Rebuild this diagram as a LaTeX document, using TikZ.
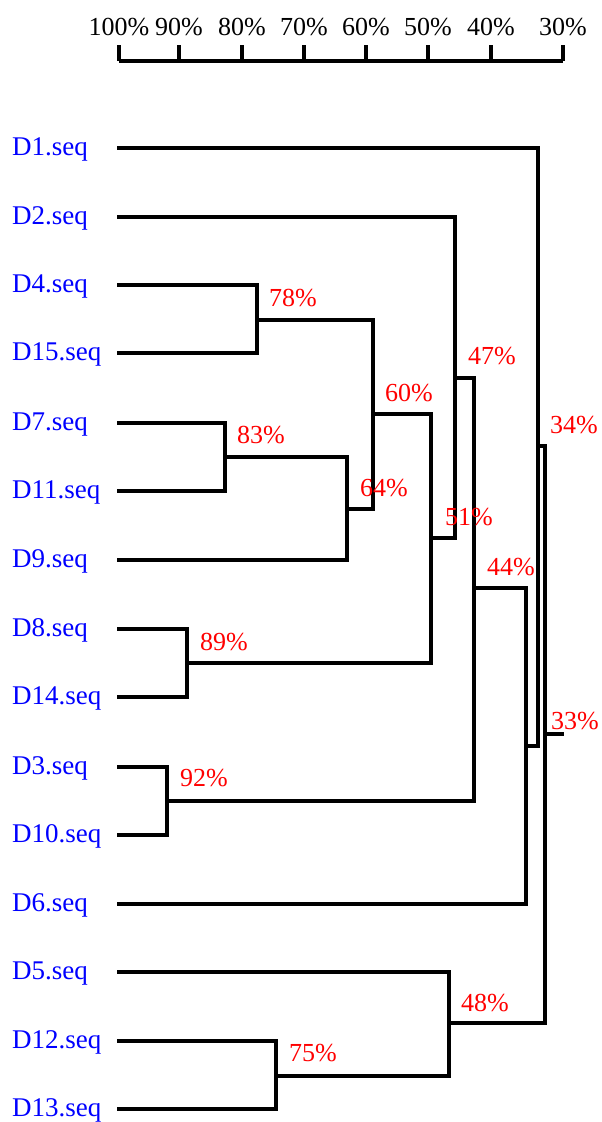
\documentclass[tikz,border=0pt]{standalone}
\usepackage{fontspec}
\setmainfont{Liberation Serif}
\begin{document}
\begin{tikzpicture}[x=1pt,y=-1pt,
  branch/.style={line width=3.6pt,line join=miter,line cap=butt},
  leaflabel/.style={anchor=base west,inner sep=0pt,text=blue,font=\fontsize{27}{30}\selectfont},
  pct/.style={anchor=base west,inner sep=0pt,text=red,font=\fontsize{26}{29}\selectfont},
  axlabel/.style={anchor=base,inner sep=0pt,font=\fontsize{26}{29}\selectfont}]
\useasboundingbox (0,0) rectangle (602,1122);
% axis
\foreach \x/\t [count=\i] in {119/100,179/90,242/80,304/70,366/60,428/50,491/40,563/30}{
  \node[axlabel] (ax\i) at (\x,35) {\t\%};
  \coordinate (tk\i) at (\x,45);
}
\coordinate (axL) at (119,61);
\coordinate (axR) at (563,61);
\draw[branch] (axL) -- (axR);
\foreach \i in {1,...,8}{\draw[branch] (tk\i) -- (tk\i |- axL);}
% leaves
\foreach \n/\y in {1/148,2/217,4/285,15/353,7/423,11/491,9/560,8/629,14/697,3/767,10/835,6/904,5/972,12/1041,13/1109}{
  \node[leaflabel] (D\n) at (12,\y+7) {D\n.seq};
  \coordinate (l\n) at (117,\y);
}
% merge points
\coordinate (m78) at (257,320);
\coordinate (m83) at (225,457);
\coordinate (m64) at (347,509);
\coordinate (m60) at (373,414);
\coordinate (m89) at (187,663);
\coordinate (m51) at (431,538);
\coordinate (m47) at (455,378);
\coordinate (m92) at (167,801);
\coordinate (m44) at (474,588);
\coordinate (m6j) at (526,746);
\coordinate (m34) at (538,446);
\coordinate (m75) at (276,1076);
\coordinate (m48) at (449,1023);
\coordinate (m33) at (545,734);
\coordinate (stub) at (564,734);
% branches
\draw[branch] (l4) -| (m78) |- (l15);
\draw[branch] (l7) -| (m83) |- (l11);
\draw[branch] (m83) -| (m64) |- (l9);
\draw[branch] (m78) -| (m60) |- (m64);
\draw[branch] (l8) -| (m89) |- (l14);
\draw[branch] (m60) -| (m51) |- (m89);
\draw[branch] (l2) -| (m47) |- (m51);
\draw[branch] (l3) -| (m92) |- (l10);
\draw[branch] (m47) -| (m44) |- (m92);
\draw[branch] (m44) -| (m6j) |- (l6);
\draw[branch] (l1) -| (m34) |- (m6j);
\draw[branch] (l12) -| (m75) |- (l13);
\draw[branch] (l5) -| (m48) |- (m75);
\draw[branch] (m34) -| (m33) |- (m48);
\draw[branch] (m33) -- (stub);
% labels
\node[pct] (p78) at (269,306) {78\%};
\node[pct] (p83) at (237,443) {83\%};
\node[pct] (p60) at (385,401) {60\%};
\node[pct] (p64) at (360,496) {64\%};
\node[pct] (p51) at (445,525) {51\%};
\node[pct] (p47) at (468,364) {47\%};
\node[pct] (p44) at (487,575) {44\%};
\node[pct] (p34) at (550,433) {34\%};
\node[pct] (p33) at (551,729) {33\%};
\node[pct] (p48) at (461,1011) {48\%};
\node[pct] (p89) at (200,650) {89\%};
\node[pct] (p92) at (180,786) {92\%};
\node[pct] (p75) at (289,1061) {75\%};
\end{tikzpicture}
\end{document}
